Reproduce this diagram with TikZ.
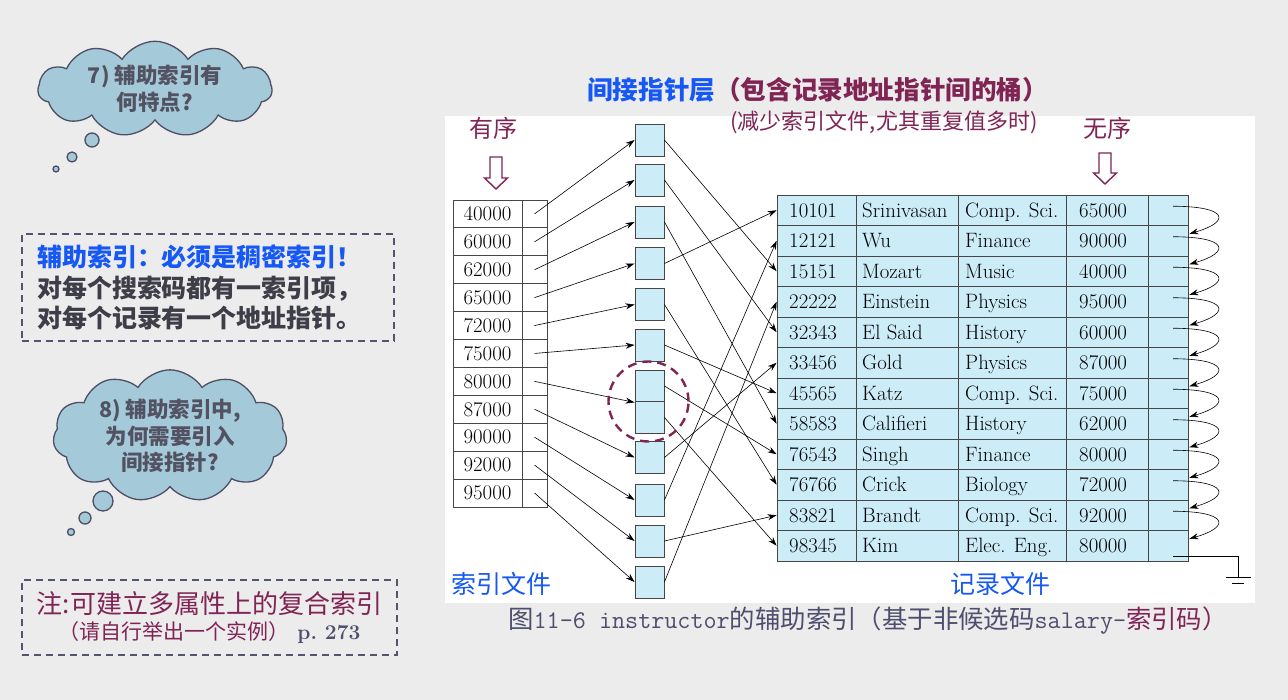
\documentclass[tikz,border=0pt]{standalone}
\usepackage{fontspec}
\newfontfamily\cjk{Noto Sans CJK SC}
\usetikzlibrary{shapes.symbols,shapes.geometric,arrows.meta,calc}
\definecolor{mag}{RGB}{128,36,84}
\definecolor{tblue}{RGB}{22,88,245}
\definecolor{bgc}{RGB}{236,236,236}
\definecolor{tfill}{RGB}{204,236,248}
\definecolor{tline}{RGB}{70,70,70}
\definecolor{cfill}{RGB}{164,201,216}
\definecolor{cline}{RGB}{78,78,100}
\definecolor{ctext}{RGB}{82,82,98}
\definecolor{dtext}{RGB}{62,62,72}
\definecolor{boxline}{RGB}{84,84,110}
\definecolor{captc}{RGB}{78,78,110}
\newcommand\myfs[1]{\fontsize{#1}{#1}\selectfont}
\newcommand\myfsb[2]{\fontsize{#1}{#2}\selectfont}
\tikzset{
  idxcell/.style={draw=tline, fill=white, minimum height=27.9pt, inner sep=0pt, line width=0.8pt, font=\myfs{20.8}},
  bucket/.style={draw=tline, fill=tfill, minimum width=29pt, minimum height=32pt, inner sep=0pt, line width=0.9pt},
  reccell/.style={draw=tline, fill=tfill, minimum height=30.5pt, inner sep=0pt, line width=0.8pt},
  rectext/.style={anchor=base west, inner sep=0pt, font=\myfs{20.8}},
  ptr/.style={-{Stealth[length=9pt,width=6pt]}, line width=0.6pt},
  thought/.style={cloud, cloud puffs=11, cloud puff arc=115, draw=cline, fill=cfill, line width=1.3pt, inner sep=0pt, align=center, text=ctext, font=\cjk\bfseries\myfsb{21.5}{26.5}},
  bubble/.style={circle, draw=cline, fill=cfill, line width=1.3pt, inner sep=0pt},
  dashbox/.style={draw=boxline, dashed, dash pattern=on 7pt off 5pt, line width=1.6pt, inner sep=0pt},
  hollowarr/.style={draw=mag, line width=1.4pt, fill=white},
}
\begin{document}
\begin{tikzpicture}[x=1pt,y=-1pt]
\useasboundingbox (0,0) rectangle (1288,700);
\fill[bgc] (0,0) rectangle (1288,700);
\fill[white] (445,116) rectangle (1255,603);

% titles
\node[anchor=west, font=\cjk\bfseries\myfs{25.6}, inner sep=0pt] (ttl) at (587,90) {\textcolor{tblue}{间接指针层}\textcolor{mag}{（包含记录地址指针间的桶）}};
\node[font=\cjk\myfs{22}, text=mag, inner sep=0pt] (sub) at (884,122) {(减少索引文件,尤其重复值多时)};
\node[font=\cjk\myfs{24}, text=mag, inner sep=0pt] (ord) at (493,128) {有序};
\node[font=\cjk\myfs{24}, text=mag, inner sep=0pt] (unord) at (1107,128) {无序};
\draw[hollowarr] (490,157) -- (502,157) -- (502,178) -- (507.5,178) -- (496,189) -- (484.5,178) -- (490,178) -- cycle;
\draw[hollowarr] (1099,153) -- (1111,153) -- (1111,173) -- (1116.5,173) -- (1105,184) -- (1093.5,173) -- (1099,173) -- cycle;

% index file
\foreach \v [count=\i] in {40000,60000,62000,65000,72000,75000,80000,87000,90000,92000,95000}{
  \node[idxcell, minimum width=69pt] (ik\i) at (487.5,{200+(\i-0.5)*27.9}) {\v};
  \node[idxcell, minimum width=25pt] (ip\i) at (534.5,{200+(\i-0.5)*27.9}) {};
}

% buckets
\foreach \n/\yy in {1/140,2/180,3/222,4/263.5,5/304.5,6/345,7a/386,7b/417.5,8/457.5,9/500,10/541,11/582}
  \node[bucket] (bk\n) at (649.5,\yy) {};

% records
\foreach \rid/\rnm/\rdep/\rsal [count=\i] in {
  10101/Srinivasan/Comp. Sci./65000,
  12121/Wu/Finance/90000,
  15151/Mozart/Music/40000,
  22222/Einstein/Physics/95000,
  32343/El Said/History/60000,
  33456/Gold/Physics/87000,
  45565/Katz/Comp. Sci./75000,
  58583/Califieri/History/62000,
  76543/Singh/Finance/80000,
  76766/Crick/Biology/72000,
  83821/Brandt/Comp. Sci./92000,
  98345/Kim/Elec. Eng./80000}{
  \pgfmathsetmacro\yc{195+(\i-0.5)*30.5}
  \node[reccell, minimum width=79pt] (r\i-1) at (816.5,\yc) {};
  \node[reccell, minimum width=102pt] (r\i-2) at (907,\yc) {};
  \node[reccell, minimum width=108pt] (r\i-3) at (1012,\yc) {};
  \node[reccell, minimum width=82pt] (r\i-4) at (1107,\yc) {};
  \node[reccell, minimum width=40pt] (r\i-5) at (1168,\yc) {};
  \node[rectext] (t\i-1) at (789,{\yc+7}) {\rid};
  \node[rectext] (t\i-2) at (862,{\yc+7}) {\rnm};
  \node[rectext] (t\i-3) at (965,{\yc+7}) {\rdep};
  \node[rectext] (t\i-4) at (1079,{\yc+7}) {\rsal};
}

% index -> bucket
\foreach \i in {1,...,6} \draw[ptr] (ip\i.center) -- (bk\i.west);
\draw[ptr] (ip7.center) -- (bk7a.south west);
\foreach \i in {8,...,11} \draw[ptr] (ip\i.center) -- (bk\i.west);

% bucket -> record
\foreach \b/\r in {1/3,2/5,3/8,4/1,5/10,6/7,7a/9,7b/12,8/6,9/2,10/11,11/4}
  \draw[ptr] (bk\b.east) -- (r\r-1.west);

% chain of records
\foreach \i [evaluate=\i as \j using int(\i+1)] in {1,...,11}
  \draw[ptr] ($(r\i-5.center)+(5,-4)$) .. controls +(55,0) and +(42,-12) .. ($(r\j-5.east)+(1,-7)$);
\coordinate (gnd) at (1238,577);
\draw[line width=0.6pt] ($(r12-5.center)+(5,11)$) -| (gnd);
\draw[line width=0.6pt] ($(gnd)+(-12,0)$) -- ++(25,0);
\draw[line width=0.6pt] ($(gnd)+(-6,6)$) -- ++(12,0);

% dashed group circle
\node[circle, draw=mag, dashed, dash pattern=on 9pt off 6pt, line width=2.4pt, minimum size=80pt, inner sep=0pt] (grp) at (648.5,401.5) {};

% file labels
\node[font=\cjk\myfs{25}, text=tblue, inner sep=0pt] (idxlab) at (501,584) {索引文件};
\node[font=\cjk\myfs{25}, text=tblue, inner sep=0pt] (reclab) at (1000,584) {记录文件};

% caption
\node[font=\myfs{25.4}, text=captc, inner sep=0pt] (cap) at (868,621) {{\cjk 图}{\ttfamily 11-6 instructor}{\cjk 的辅助索引（基于非候选码}{\ttfamily salary-}{\cjk\color{mag}索引码）}};

% left: cloud 1
\node[thought, aspect=2.75, minimum width=234pt, minimum height=85pt] (q7) at (155,89) {7) 辅助索引有\\何特点?};
\node[bubble, minimum size=14pt] (q7b1) at (92,140) {};
\node[bubble, minimum size=10pt] (q7b2) at (72,157) {};
\node[bubble, minimum size=6pt] (q7b3) at (56,169) {};

% box 1
\node[dashbox, minimum width=372pt, minimum height=107pt, inner xsep=15pt, text width=342pt, align=left, text=dtext, font=\cjk\bfseries\myfsb{25}{30.5}] (note1) at (208,287.5) {\textcolor{tblue}{辅助索引：必须是稠密索引！}\\对每个搜索码都有一索引项，\\对每个记录有一个地址指针。};

% cloud 2
\node[thought, aspect=2.0, minimum width=234pt, minimum height=117pt] (q8) at (170,436) {8) 辅助索引中,\\为何需要引入\\间接指针?};
\node[bubble, minimum size=20pt] (q8b1) at (103,501) {};
\node[bubble, minimum size=12pt] (q8b2) at (85,518) {};
\node[bubble, minimum size=7pt] (q8b3) at (71,532) {};

% box 2
\node[dashbox, minimum width=375pt, minimum height=75pt, align=center] (note2) at (209.5,617.5) {{\cjk\myfs{26}\color{mag}注:可建立多属性上的复合索引}\\[5pt]{\cjk\myfs{21}\color{mag}（请自行举出一个实例）}{\myfs{21}\color{captc}\bfseries\ p.~273}};
\end{tikzpicture}
\end{document}
